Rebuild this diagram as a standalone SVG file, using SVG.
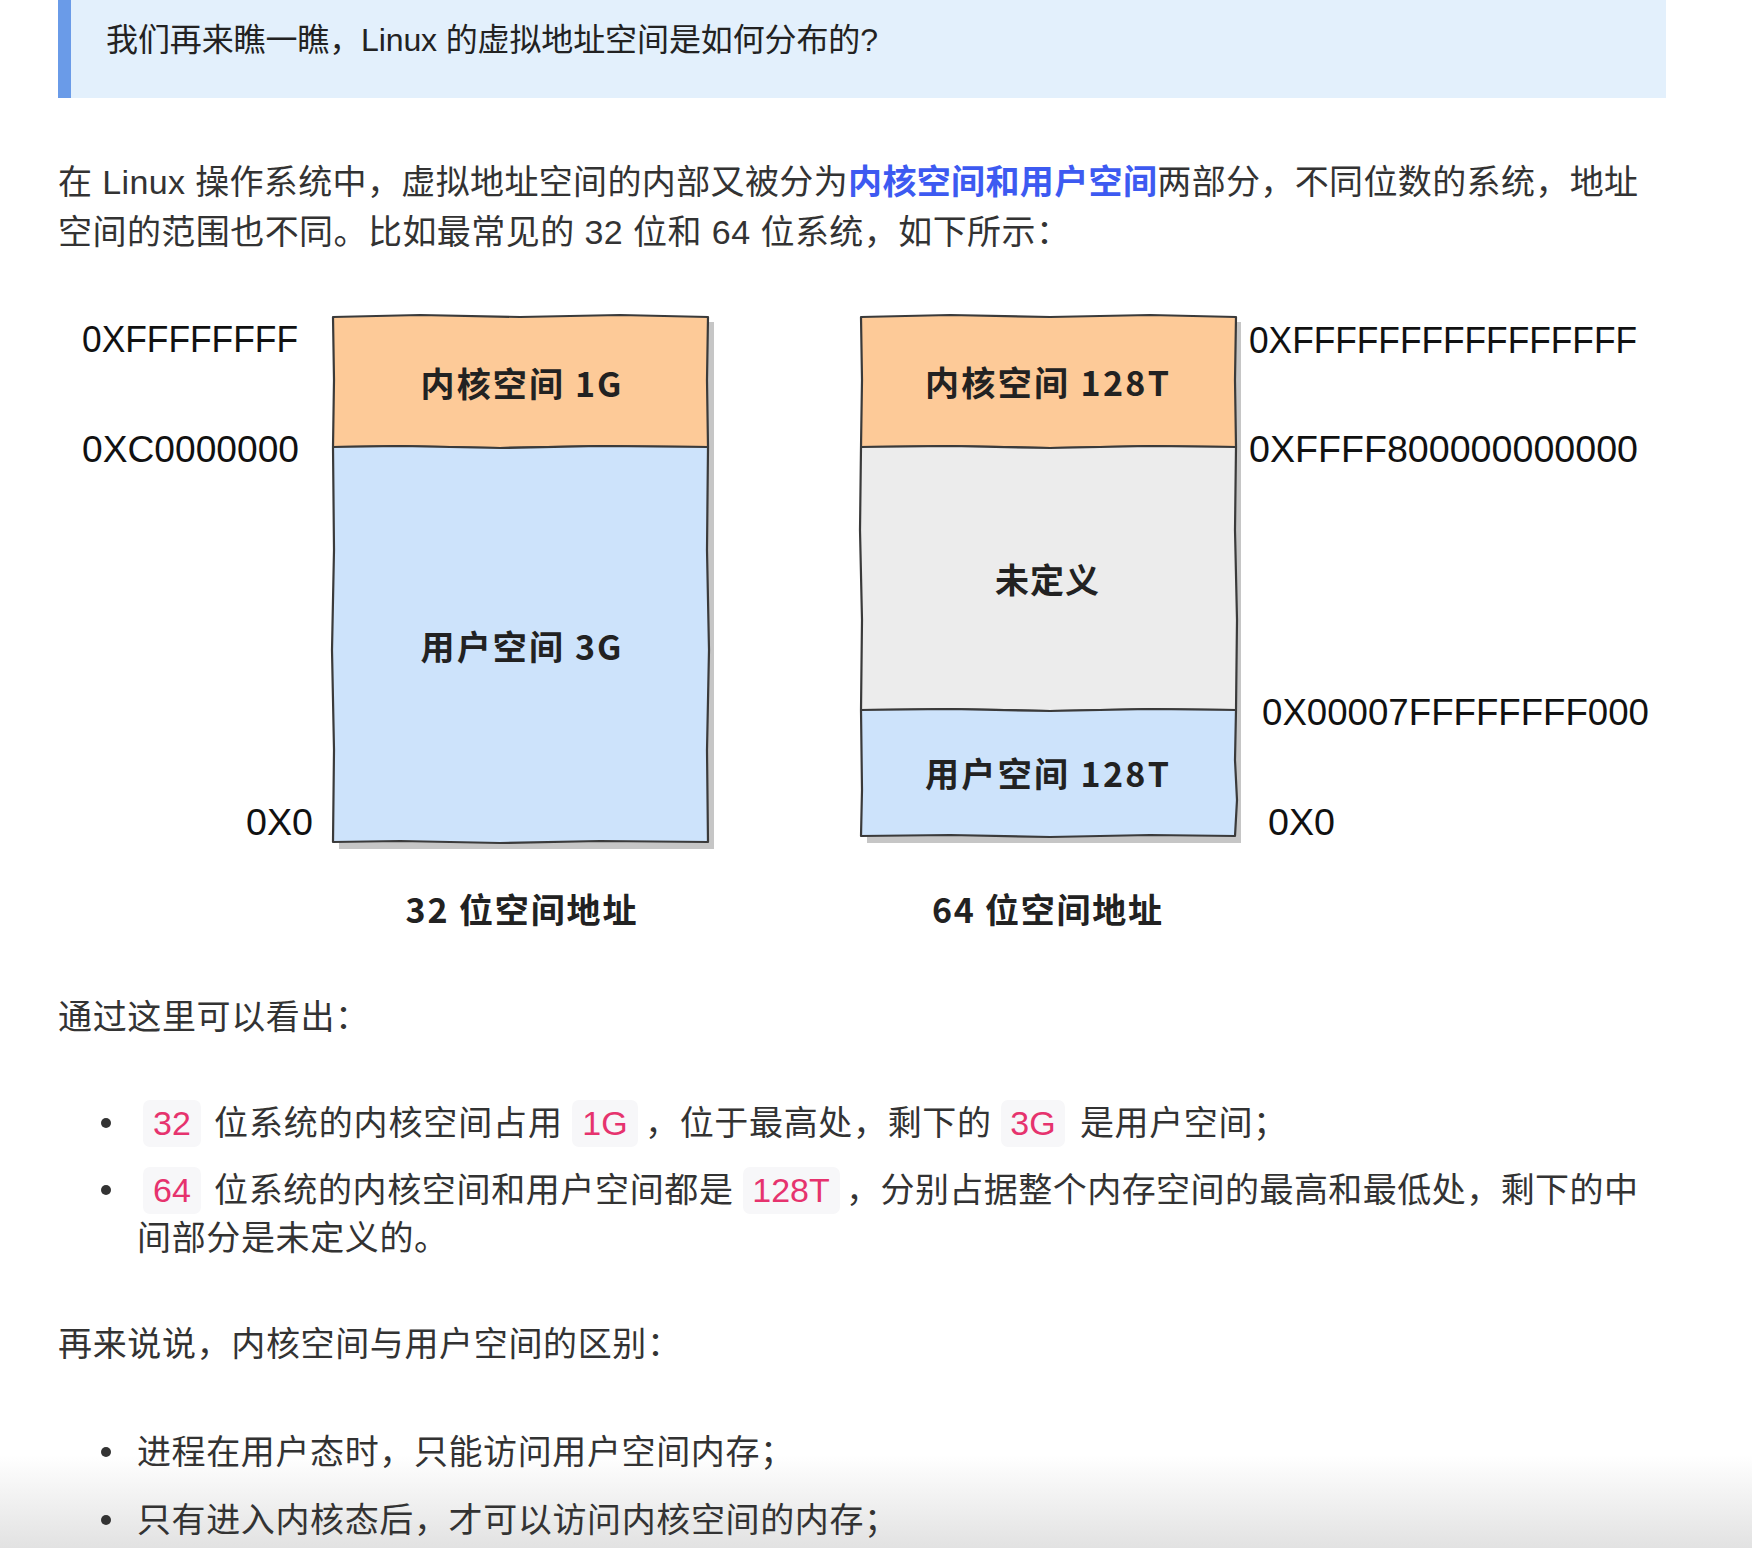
<svg xmlns="http://www.w3.org/2000/svg" width="1752" height="1548" viewBox="0 0 1752 1548">
<defs>
<linearGradient id="fade" x1="0" y1="0" x2="0" y2="1">
<stop offset="0" stop-color="#ffffff"/>
<stop offset="1" stop-color="#e2e2e2"/>
</linearGradient>
</defs>
<style>
.body{font-family:"Liberation Sans","Noto Sans CJK SC",sans-serif;font-size:34px;fill:#333333;}
.quote{font-family:"Liberation Sans","Noto Sans CJK SC",sans-serif;font-size:32px;fill:#222222;}
.em{fill:#3d5af1;font-weight:bold;}
.code{font-family:"Liberation Sans","Noto Sans CJK SC",sans-serif;font-size:34px;fill:#e6336e;text-anchor:middle;}
.codebg{fill:#f7f7f9;}
.addr{font-family:"Liberation Sans","DejaVu Sans",sans-serif;font-size:36px;fill:#111111;}
.lbl{font-family:"Noto Sans CJK SC","Liberation Sans",sans-serif;font-size:34px;font-weight:bold;fill:#222222;text-anchor:middle;}
.box{stroke:#3a3a3a;stroke-width:2.2;stroke-linejoin:round;}
.shadow{fill:#c6c6c6;}
.dot{fill:#333333;}
</style>

<rect x="0" y="0" width="1752" height="1548" fill="#ffffff"/>
<rect x="0" y="1455" width="1752" height="93" fill="url(#fade)"/>

<g id="blockquote">
<rect x="58" y="0" width="1608" height="98" fill="#e3f0fc"/>
<rect x="58" y="0" width="13" height="98" fill="#6a9be8"/>
<text class="quote" x="106" y="51" textLength="772" lengthAdjust="spacing">我们再来瞧一瞧，Linux 的虚拟地址空间是如何分布的?</text>
</g>

<g id="intro">
<text class="body" x="58" y="194" textLength="1580" lengthAdjust="spacing">在 Linux 操作系统中，虚拟地址空间的内部又被分为<tspan class="em">内核空间和用户空间</tspan>两部分，不同位数的系统，地址</text>
<text class="body" x="58" y="244" textLength="1012" lengthAdjust="spacing">空间的范围也不同。比如最常见的 32 位和 64 位系统，如下所示：</text>
</g>

<g id="diagram32">
<g id="box32-shadow">
<path class="shadow" d="M338,323 L714,322 L714,849 L339,849 Z"/>
</g>
<g id="kernel32">
<path class="box" fill="#fdca98" d="M333,317 L420,315 L520,317 L620,315 L708,317 L707,380 L708,447 L600,446 L500,448 L400,446 L333,447 L334,380 Z"/>
<text class="lbl" x="521" y="397" textLength="201" lengthAdjust="spacing">内核空间 1G</text>
</g>
<g id="user32">
<path class="box" fill="#cde3fb" d="M333,447 L400,446 L500,448 L600,446 L708,447 L707,550 L709,650 L707,750 L708,842 L600,841 L500,843 L400,841 L333,842 L334,750 L332,650 L334,550 Z"/>
<text class="lbl" x="521" y="660" textLength="201" lengthAdjust="spacing">用户空间 3G</text>
</g>
<g id="addr32">
<text class="addr" x="82" y="352" textLength="216" lengthAdjust="spacingAndGlyphs">0XFFFFFFFF</text>
<text class="addr" x="82" y="462" textLength="217" lengthAdjust="spacingAndGlyphs">0XC0000000</text>
<text class="addr" x="246" y="835" textLength="67" lengthAdjust="spacingAndGlyphs">0X0</text>
</g>
<text id="title32" class="lbl" x="521" y="923" textLength="231" lengthAdjust="spacing">32 位空间地址</text>
</g>

<g id="diagram64">
<g id="box64-shadow">
<path class="shadow" d="M866,323 L1241,322 L1241,843 L867,843 Z"/>
</g>
<g id="kernel64">
<path class="box" fill="#fdca98" d="M861,317 L950,315 L1050,317 L1150,315 L1236,317 L1235,380 L1236,447 L1150,446 L1050,448 L950,446 L861,447 L862,380 Z"/>
<text class="lbl" x="1047" y="396" textLength="244" lengthAdjust="spacing">内核空间 128T</text>
</g>
<g id="undefined64">
<path class="box" fill="#ececec" d="M861,447 L950,446 L1050,448 L1150,446 L1236,447 L1235,530 L1237,620 L1236,710 L1150,709 L1050,711 L950,709 L861,710 L862,620 L860,530 Z"/>
<text class="lbl" x="1047" y="593" textLength="104" lengthAdjust="spacing">未定义</text>
</g>
<g id="user64">
<path class="box" fill="#cde3fb" d="M861,710 L950,709 L1050,711 L1150,709 L1236,710 L1235,760 L1237,800 L1235,836 L1150,835 L1050,837 L950,835 L861,836 L862,790 Z"/>
<text class="lbl" x="1047" y="787" textLength="244" lengthAdjust="spacing">用户空间 128T</text>
</g>
<g id="addr64">
<text class="addr" x="1249" y="353" textLength="388" lengthAdjust="spacingAndGlyphs">0XFFFFFFFFFFFFFFFF</text>
<text class="addr" x="1249" y="462" textLength="389" lengthAdjust="spacingAndGlyphs">0XFFFF800000000000</text>
<text class="addr" x="1262" y="725" textLength="387" lengthAdjust="spacingAndGlyphs">0X00007FFFFFFFF000</text>
<text class="addr" x="1268" y="835" textLength="67" lengthAdjust="spacingAndGlyphs">0X0</text>
</g>
<text id="title64" class="lbl" x="1047" y="923" textLength="230" lengthAdjust="spacing">64 位空间地址</text>
</g>

<g id="connectors"></g>

<g id="summary">
<text class="body" x="58" y="1029" textLength="311" lengthAdjust="spacing">通过这里可以看出：</text>
<g id="bullet1">
<circle class="dot" cx="106" cy="1123" r="5"/>
<rect class="codebg" x="143" y="1100" width="58" height="47" rx="7"/>
<text class="code" x="172" y="1135">32</text>
<text class="body" x="214" y="1135" textLength="348" lengthAdjust="spacing">位系统的内核空间占用</text>
<rect class="codebg" x="572" y="1100" width="66" height="47" rx="7"/>
<text class="code" x="605" y="1135">1G</text>
<text class="body" x="645" y="1135" textLength="346" lengthAdjust="spacing">，位于最高处，剩下的</text>
<rect class="codebg" x="1001" y="1100" width="64" height="47" rx="7"/>
<text class="code" x="1033" y="1135">3G</text>
<text class="body" x="1080" y="1135" textLength="207" lengthAdjust="spacing">是用户空间；</text>
</g>
<g id="bullet2">
<circle class="dot" cx="106" cy="1190" r="5"/>
<rect class="codebg" x="143" y="1167" width="58" height="47" rx="7"/>
<text class="code" x="172" y="1202">64</text>
<text class="body" x="214" y="1202" textLength="519" lengthAdjust="spacing">位系统的内核空间和用户空间都是</text>
<rect class="codebg" x="743" y="1167" width="97" height="47" rx="7"/>
<text class="code" x="791" y="1202">128T</text>
<text class="body" x="846" y="1202" textLength="792" lengthAdjust="spacing">，分别占据整个内存空间的最高和最低处，剩下的中</text>
<text class="body" x="137" y="1250" textLength="311" lengthAdjust="spacing">间部分是未定义的。</text>
</g>
</g>

<g id="difference">
<text class="body" x="58" y="1356" textLength="623" lengthAdjust="spacing">再来说说，内核空间与用户空间的区别：</text>
<g id="bullet3">
<circle class="dot" cx="106" cy="1452" r="5"/>
<text class="body" x="137" y="1464" textLength="657" lengthAdjust="spacing">进程在用户态时，只能访问用户空间内存；</text>
</g>
<g id="bullet4">
<circle class="dot" cx="106" cy="1520" r="5"/>
<text class="body" x="137" y="1532" textLength="761" lengthAdjust="spacing">只有进入内核态后，才可以访问内核空间的内存；</text>
</g>
</g>
</svg>
